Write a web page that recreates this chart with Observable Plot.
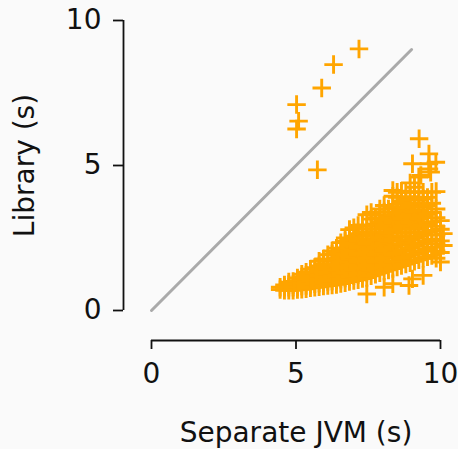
<!DOCTYPE html>
<html>
<head>
<meta charset="utf-8">
<script src="https://cdn.jsdelivr.net/npm/d3@7"></script>
<script src="https://cdn.jsdelivr.net/npm/@observablehq/plot@0.6"></script>
<style>
  html, body { margin: 0; padding: 0; background: #fafafa; }
</style>
</head>
<body>
<div id="chart"></div>
<script>
const xLabel = "Separate JVM (s)";
const yLabel = "Library (s)";
const xTicks = [0, 5, 10];
const yTicks = [0, 5, 10];
const diagonal = [[0, 0], [9, 9]];

// outliers above the diagonal: [separate JVM, library]
const outliers = [
  [7.18, 9.02], [6.30, 8.48], [5.89, 7.67], [5.02, 7.10],
  [5.09, 6.53], [5.02, 6.26], [5.74, 4.85]
];

// main cluster, listed by approximate separate-JVM time: [x, [library values]]
const cluster = [
  [4.45, [0.72, 0.80]],
  [4.60, [0.70, 0.80, 0.88]],
  [4.75, [0.70, 0.80, 0.90, 0.98]],
  [4.90, [0.70, 0.80, 0.90, 1.00]],
  [5.05, [0.72, 0.82, 0.92, 1.02, 1.12]],
  [5.20, [0.73, 0.84, 0.95, 1.06, 1.16, 1.25]],
  [5.35, [0.75, 0.86, 0.98, 1.10, 1.22, 1.32]],
  [5.50, [0.78, 0.90, 1.02, 1.14, 1.28, 1.42]],
  [5.65, [0.80, 0.92, 1.05, 1.18, 1.32, 1.48]],
  [5.80, [0.82, 0.95, 1.08, 1.22, 1.38, 1.54, 1.70]],
  [5.95, [0.84, 0.97, 1.12, 1.27, 1.43, 1.60, 1.78]],
  [6.10, [0.86, 1.00, 1.15, 1.32, 1.50, 1.70, 1.92]],
  [6.25, [0.88, 1.02, 1.18, 1.36, 1.55, 1.75, 1.95, 2.05]],
  [6.40, [0.90, 1.05, 1.22, 1.40, 1.60, 1.80, 2.00, 2.15]],
  [6.55, [0.93, 1.08, 1.26, 1.45, 1.65, 1.86, 2.08, 2.34]],
  [6.70, [0.96, 1.12, 1.30, 1.50, 1.72, 1.94, 2.16, 2.38, 2.50]],
  [6.85, [1.00, 1.16, 1.35, 1.56, 1.78, 2.00, 2.24, 2.48, 2.79]],
  [7.00, [1.03, 1.20, 1.40, 1.62, 1.85, 2.08, 2.32, 2.56, 2.85]],
  [7.15, [1.06, 1.24, 1.45, 1.68, 1.92, 2.16, 2.40, 2.65, 2.93]],
  [7.30, [1.10, 1.28, 1.50, 1.74, 1.98, 2.22, 2.48, 2.72, 2.95]],
  [7.45, [0.57, 1.14, 1.32, 1.55, 1.80, 2.05, 2.30, 2.56, 2.82, 3.30]],
  [7.60, [1.20, 1.40, 1.62, 1.86, 2.12, 2.38, 2.64, 2.90, 3.15, 3.38]],
  [7.75, [1.25, 1.45, 1.68, 1.92, 2.18, 2.45, 2.72, 2.98, 3.20]],
  [7.90, [1.30, 1.50, 1.74, 2.00, 2.26, 2.52, 2.80, 3.06, 3.30, 3.50]],
  [8.05, [0.80, 1.35, 1.56, 1.80, 2.06, 2.32, 2.60, 2.88, 3.14, 3.40, 3.62]],
  [8.20, [1.40, 1.62, 1.86, 2.12, 2.40, 2.68, 2.96, 3.22, 3.50]],
  [8.35, [0.92, 1.45, 1.68, 1.92, 2.18, 2.46, 2.74, 3.02, 3.30, 3.58, 3.94, 4.14]],
  [8.50, [1.50, 1.72, 1.98, 2.25, 2.52, 2.80, 3.10, 3.38, 3.66, 3.90, 4.08]],
  [8.65, [1.55, 1.78, 2.04, 2.30, 2.58, 2.88, 3.16, 3.46, 3.76, 4.11]],
  [8.80, [1.60, 1.84, 2.10, 2.38, 2.66, 2.95, 3.24, 3.54, 3.84, 4.08]],
  [8.91, [0.86]],
  [8.95, [1.65, 1.90, 2.16, 2.44, 2.72, 3.02, 3.32, 3.62, 3.92, 4.40]],
  [9.03, [1.09, 5.06]],
  [9.10, [1.70, 1.95, 2.22, 2.50, 2.80, 3.10, 3.40, 3.70, 4.08, 4.25]],
  [9.25, [1.75, 2.00, 2.28, 2.56, 2.86, 3.16, 3.48, 3.80, 4.10, 4.60]],
  [9.26, [5.92]],
  [9.32, [4.66]],
  [9.40, [1.21, 1.80, 2.06, 2.34, 2.64, 2.94, 3.24, 3.56, 3.85, 4.08]],
  [9.55, [1.85, 2.12, 2.40, 2.70, 3.00, 3.32, 3.62, 3.90]],
  [9.60, [4.88, 5.06, 5.40]],
  [9.66, [4.77]],
  [9.70, [1.90, 2.18, 2.46, 2.76, 3.06, 3.38, 3.70, 4.08]],
  [9.84, [5.11]],
  [9.85, [1.80, 2.05, 2.30, 2.60, 2.90, 3.20, 3.50, 4.10]],
  [10.0, [1.67, 2.00, 2.40, 2.80, 3.10]],
  [10.1, [2.24, 2.65]]
];

const runs = [
  ...outliers.map(([x, y]) => ({x, y})),
  ...cluster.flatMap(([x, ys]) => ys.map(y => ({x, y})))
];

const font = "DejaVu Sans, sans-serif";
const fs = 28;

const chart = Plot.plot({
  width: 458,
  height: 449,
  marginLeft: 151,
  marginRight: 18,
  marginTop: 20,
  marginBottom: 139,
  style: {background: "#fafafa", fontFamily: font, fontSize: fs + "px", color: "#111"},
  x: {domain: [0, 10]},
  y: {domain: [0, 10]},
  marks: [
    Plot.line(diagonal, {x: d => d[0], y: d => d[1], stroke: "#aaaaaa", strokeWidth: 3}),
    Plot.dot(runs, {x: "x", y: "y", symbol: "plus", r: 6, stroke: "#ffa500", strokeWidth: 2.9}),
    // y axis (offset spine)
    Plot.ruleX([d3.min(xTicks)], {y1: d3.min(yTicks), y2: d3.max(yTicks), dx: -28, stroke: "#111", strokeWidth: 1.8}),
    Plot.axisY(yTicks, {anchor: "left", dx: -28, tickSize: 10, tickPadding: 12, strokeWidth: 1.8, stroke: "#111", fill: "#111", fontSize: fs, label: null}),
    // x axis (offset spine)
    Plot.ruleY([d3.min(yTicks)], {x1: d3.min(xTicks), x2: d3.max(xTicks), dy: 30, stroke: "#111", strokeWidth: 1.8}),
    Plot.axisX(xTicks, {anchor: "bottom", dy: 30, tickSize: 9, tickPadding: 14, strokeWidth: 1.8, stroke: "#111", fill: "#111", fontSize: fs, label: null}),
    Plot.text([yLabel], {frameAnchor: "left", rotate: -90, dx: -126, text: d => d, textAnchor: "middle", lineAnchor: "middle", fontSize: fs, fill: "#111"}),
    Plot.text([xLabel], {frameAnchor: "bottom", dy: 123, text: d => d, textAnchor: "middle", lineAnchor: "middle", fontSize: fs, fill: "#111"})
  ]
});
document.getElementById("chart").appendChild(chart);
</script>
</body>
</html>
